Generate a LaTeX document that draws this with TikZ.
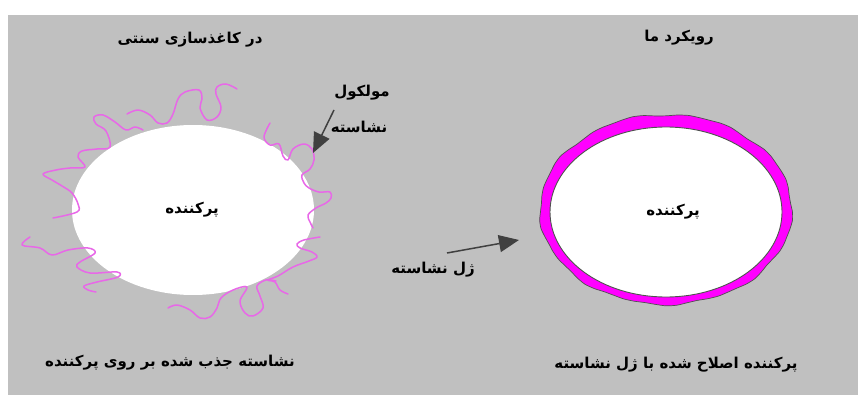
\documentclass[tikz,border=0pt]{standalone}
\usepackage{fontspec}
\newfontfamily\farsifont[Script=Arabic]{DejaVu Sans}
\TeXXeTstate=1
\usetikzlibrary{arrows.meta}
\definecolor{bggray}{RGB}{192,192,192}
\definecolor{molpink}{RGB}{232,104,232}
\definecolor{gelpink}{RGB}{255,0,255}
\definecolor{arrgray}{RGB}{64,64,64}
\definecolor{rimgray}{RGB}{80,80,80}
\tikzset{
  fa/.style={font=\farsifont\bfseries\fontsize{15}{18}\selectfont, inner sep=1pt},
  mol/.style={molpink, line width=1.5pt, line join=round, line cap=round},
  pointer/.style={arrgray, line width=1.5pt, -{Triangle[length=20pt,width=17pt]}},
}
\begin{document}
\begin{tikzpicture}[x=1pt, y=-1pt]
\useasboundingbox (0,0) rectangle (858,395);
\fill[bggray] (8,15) rectangle (858,395);

% left: filler with adsorbed starch chains
\fill[white] (193,210) ellipse [x radius=121pt, y radius=85pt];
\draw[mol] plot[smooth, tension=0.6] coordinates {(53,218) (77,212) (78,204) (72,193) (62,186) (52,180) (43,174) (56,170) (70,168) (85,167) (78,157) (82,151) (97,149) (110,147) (106,131) (96,124) (94,117) (103,115) (115,122) (126,130) (135,127) (143,130)};
\draw[mol] plot[smooth, tension=0.6] coordinates {(127,114) (138,110) (150,115) (158,123) (167,123) (173,114) (178,99) (185,92) (199,90) (202,99) (200,108) (207,120) (217,117) (221,107) (216,94) (217,87) (226,84) (237,89)};
\draw[mol] plot[smooth, tension=0.6] coordinates {(270,123) (264,137) (270,145) (279,144) (283,156) (288,160) (293,149) (304,144) (312,149) (314,160) (310,169) (302,175) (304,183) (309,188) (319,192) (330,192) (331,198) (326,203) (316,208) (308,215) (310,222) (313,228)};
\draw[mol] plot[smooth, tension=0.6] coordinates {(320,237) (304,240) (297,244) (300,248) (312,252) (317,257) (309,261) (293,267) (278,276) (268,280) (275,282) (280,290) (288,294)};
\draw[mol] plot[smooth, tension=0.6] coordinates {(168,308) (177,305) (190,310) (200,318) (210,317) (217,308) (221,298) (233,290) (247,287) (240,301) (245,313) (253,316) (263,308) (260,296) (257,286) (266,280) (276,281)};
\draw[mol] plot[smooth, tension=0.6] coordinates {(30,237) (22,245) (40,248) (52,255) (68,250) (88,248) (95,253) (80,262) (77,267) (90,273) (117,272) (118,277) (97,282) (84,286) (88,290) (96,292)};

% right: filler coated with starch gel
\filldraw[fill=gelpink, draw=rimgray, line width=0.7pt] plot[smooth cycle, tension=0.4, domain=0:355, samples=72, variable=\t]
  ({666+(116+10-2.5*sin(\t)+0.8*sin(9*\t)+0.7*sin(17*\t+40))*cos(\t)}, {212+(85+10-2.5*sin(\t)+0.8*sin(9*\t)+0.7*sin(17*\t+40))*sin(\t)});
\filldraw[fill=white, draw=rimgray, line width=0.9pt] (666,212) ellipse [x radius=116pt, y radius=85pt];

% titles and labels
\node[fa] (leftTitle) at (190,40) {\beginR در کاغذسازی سنتی\endR};
\node[fa] (rightTitle) at (679,38) {\beginR رویکرد ما\endR};
\node[fa] (molLine1) at (362,93) {\beginR مولکول\endR};
\node[fa] (molLine2) at (359,127) {\beginR نشاسته\endR};
\node[fa] (fillerA) at (192,210) {\beginR پرکننده\endR};
\node[fa] (fillerB) at (673,212) {\beginR پرکننده\endR};
\node[fa] (gelLabel) at (433,270) {\beginR ژل نشاسته\endR};
\node[fa] (leftCaption) at (170,363) {\beginR نشاسته جذب شده بر روی پرکننده\endR};
\node[fa] (rightCaption) at (676,365) {\beginR پرکننده اصلاح شده با ژل نشاسته\endR};

% pointers
\coordinate (molTail) at (334,110);
\coordinate (molTip) at (313,153);
\coordinate (gelTail) at (447,253);
\coordinate (gelTip) at (519,240);
\draw[pointer] (molTail) -- (molTip);
\draw[pointer] (gelTail) -- (gelTip);
\end{tikzpicture}
\end{document}
